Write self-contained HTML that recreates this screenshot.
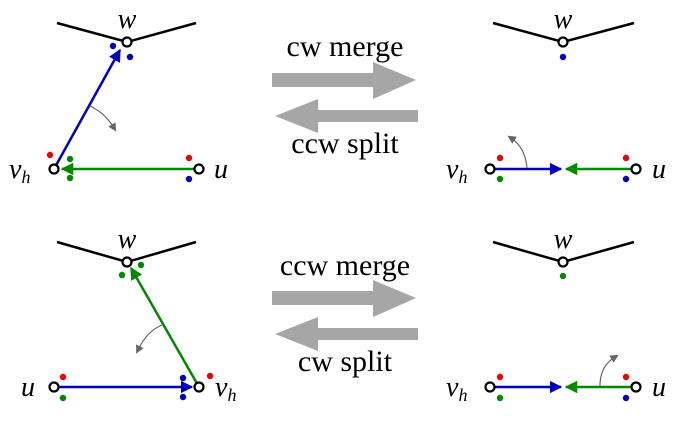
<!DOCTYPE html>
<html><head><meta charset="utf-8"><style>
html,body{margin:0;padding:0;background:#fff;}
svg{display:block;}
.t{font-family:"Liberation Serif",serif;font-size:30px;fill:#000;}
.lab{font-family:"Liberation Serif",serif;font-style:italic;font-size:28px;fill:#000;}
.sub{font-size:18px;}
</style></head><body>
<svg width="696" height="429" viewBox="0 0 696 429" xmlns="http://www.w3.org/2000/svg">
<defs>
<marker id="hb" viewBox="0 0 10 10" refX="9" refY="5" markerWidth="5" markerHeight="5" orient="auto-start-reverse" markerUnits="strokeWidth"><path d="M0,0 L10,5 L0,10 z" fill="#0000c0"/></marker>
<marker id="hg" viewBox="0 0 10 10" refX="9" refY="5" markerWidth="5" markerHeight="5" orient="auto-start-reverse" markerUnits="strokeWidth"><path d="M0,0 L10,5 L0,10 z" fill="#008800"/></marker>
<marker id="hr" viewBox="0 0 10 10" refX="5" refY="5" markerWidth="7" markerHeight="7" orient="auto" markerUnits="strokeWidth"><path d="M0,0 L10,5 L0,10 z" fill="#666"/></marker>
</defs>

<g>
<polyline points="57,23 127,42 196,23" fill="none" stroke="#000" stroke-width="2.5"/>
<line x1="54" y1="169" x2="120" y2="50" stroke="#0000c0" stroke-width="2.5" marker-end="url(#hb)"/>
<line x1="199" y1="169" x2="62" y2="169" stroke="#008800" stroke-width="2.5" marker-end="url(#hg)"/>
<path d="M90,106 Q105,113 114,128" fill="none" stroke="#666" stroke-width="1.2" marker-end="url(#hr)"/>
<circle cx="127" cy="42" r="4.5" fill="#fff" stroke="#000" stroke-width="2.2"/>
<circle cx="54" cy="169" r="4.5" fill="#fff" stroke="#000" stroke-width="2.2"/>
<circle cx="199" cy="169" r="4.5" fill="#fff" stroke="#000" stroke-width="2.2"/>
<circle cx="113" cy="46" r="3.2" fill="#0000c0"/><circle cx="130" cy="57" r="3.2" fill="#0000c0"/>
<circle cx="50" cy="155" r="3.2" fill="#e00"/><circle cx="70" cy="159" r="3.2" fill="#008800"/><circle cx="70" cy="178" r="3.2" fill="#008800"/>
<circle cx="189" cy="158" r="3.2" fill="#e00"/><circle cx="189" cy="179" r="3.2" fill="#0000c0"/>
<text class="lab" x="127" y="28" text-anchor="middle">w</text>
<text class="lab" x="9" y="178">v<tspan class="sub" dy="5">h</tspan></text>
<text class="lab" x="214" y="178">u</text>
</g>

<g>
<polyline points="57,242 127,262 196,242" fill="none" stroke="#000" stroke-width="2.5"/>
<line x1="54" y1="387" x2="192" y2="387" stroke="#0000c0" stroke-width="2.5" marker-end="url(#hb)"/>
<line x1="199" y1="387" x2="131" y2="268" stroke="#008800" stroke-width="2.5" marker-end="url(#hg)"/>
<path d="M162,325 Q147,331 138,350" fill="none" stroke="#666" stroke-width="1.2" marker-end="url(#hr)"/>
<circle cx="127" cy="262" r="4.5" fill="#fff" stroke="#000" stroke-width="2.2"/>
<circle cx="54" cy="387" r="4.5" fill="#fff" stroke="#000" stroke-width="2.2"/>
<circle cx="199" cy="387" r="4.5" fill="#fff" stroke="#000" stroke-width="2.2"/>
<circle cx="122" cy="275" r="3.2" fill="#008800"/><circle cx="141" cy="265" r="3.2" fill="#008800"/>
<circle cx="63" cy="377" r="3.2" fill="#e00"/><circle cx="63" cy="398" r="3.2" fill="#008800"/>
<circle cx="183" cy="378" r="3.2" fill="#0000c0"/><circle cx="183" cy="397" r="3.2" fill="#0000c0"/>
<circle cx="210" cy="376" r="3.2" fill="#e00"/>
<text class="lab" x="127" y="248" text-anchor="middle">w</text>
<text class="lab" x="21" y="396">u</text>
<text class="lab" x="215" y="396">v<tspan class="sub" dy="5">h</tspan></text>
</g>

<g>
<polyline points="493,23 563,42 634,23" fill="none" stroke="#000" stroke-width="2.5"/>
<line x1="490" y1="169" x2="561" y2="169" stroke="#0000c0" stroke-width="2.5" marker-end="url(#hb)"/>
<line x1="636" y1="169" x2="566" y2="169" stroke="#008800" stroke-width="2.5" marker-end="url(#hg)"/>
<path d="M527,168 Q525,147 511,138" fill="none" stroke="#666" stroke-width="1.2" marker-end="url(#hr)"/>
<circle cx="563" cy="42" r="4.5" fill="#fff" stroke="#000" stroke-width="2.2"/>
<circle cx="490" cy="169" r="4.5" fill="#fff" stroke="#000" stroke-width="2.2"/>
<circle cx="636" cy="169" r="4.5" fill="#fff" stroke="#000" stroke-width="2.2"/>
<circle cx="563" cy="57" r="3.2" fill="#0000c0"/>
<circle cx="500" cy="158" r="3.2" fill="#e00"/><circle cx="500" cy="179" r="3.2" fill="#008800"/>
<circle cx="626" cy="158" r="3.2" fill="#e00"/><circle cx="626" cy="179" r="3.2" fill="#0000c0"/>
<text class="lab" x="563" y="28" text-anchor="middle">w</text>
<text class="lab" x="446" y="178">v<tspan class="sub" dy="5">h</tspan></text>
<text class="lab" x="652" y="178">u</text>
</g>

<g>
<polyline points="493,242 563,262 634,242" fill="none" stroke="#000" stroke-width="2.5"/>
<line x1="490" y1="387" x2="561" y2="387" stroke="#0000c0" stroke-width="2.5" marker-end="url(#hb)"/>
<line x1="636" y1="387" x2="566" y2="387" stroke="#008800" stroke-width="2.5" marker-end="url(#hg)"/>
<path d="M600,386 Q600,366 615,357" fill="none" stroke="#666" stroke-width="1.2" marker-end="url(#hr)"/>
<circle cx="563" cy="262" r="4.5" fill="#fff" stroke="#000" stroke-width="2.2"/>
<circle cx="490" cy="387" r="4.5" fill="#fff" stroke="#000" stroke-width="2.2"/>
<circle cx="636" cy="387" r="4.5" fill="#fff" stroke="#000" stroke-width="2.2"/>
<circle cx="563" cy="276" r="3.2" fill="#008800"/>
<circle cx="500" cy="377" r="3.2" fill="#e00"/><circle cx="500" cy="398" r="3.2" fill="#008800"/>
<circle cx="626" cy="377" r="3.2" fill="#e00"/><circle cx="626" cy="398" r="3.2" fill="#0000c0"/>
<text class="lab" x="563" y="248" text-anchor="middle">w</text>
<text class="lab" x="446" y="396">v<tspan class="sub" dy="5">h</tspan></text>
<text class="lab" x="652" y="396">u</text>
</g>

<g>
<text class="t" x="345" y="56" text-anchor="middle">cw merge</text>
<path d="M272,73 H373 V62 L416,80 L373,99 V87 H272 Z" fill="#a6a6a6"/>
<path d="M418,110 H318 V99 L275,116 L318,133 V122 H418 Z" fill="#a6a6a6"/>
<text class="t" x="345" y="153" text-anchor="middle">ccw split</text>
</g>
<g>
<text class="t" x="345" y="275" text-anchor="middle">ccw merge</text>
<path d="M272,291 H373 V280 L416,298 L373,317 V305 H272 Z" fill="#a6a6a6"/>
<path d="M418,328 H318 V317 L275,334 L318,351 V340 H418 Z" fill="#a6a6a6"/>
<text class="t" x="345" y="371" text-anchor="middle">cw split</text>
</g>
</svg>
</body></html>
